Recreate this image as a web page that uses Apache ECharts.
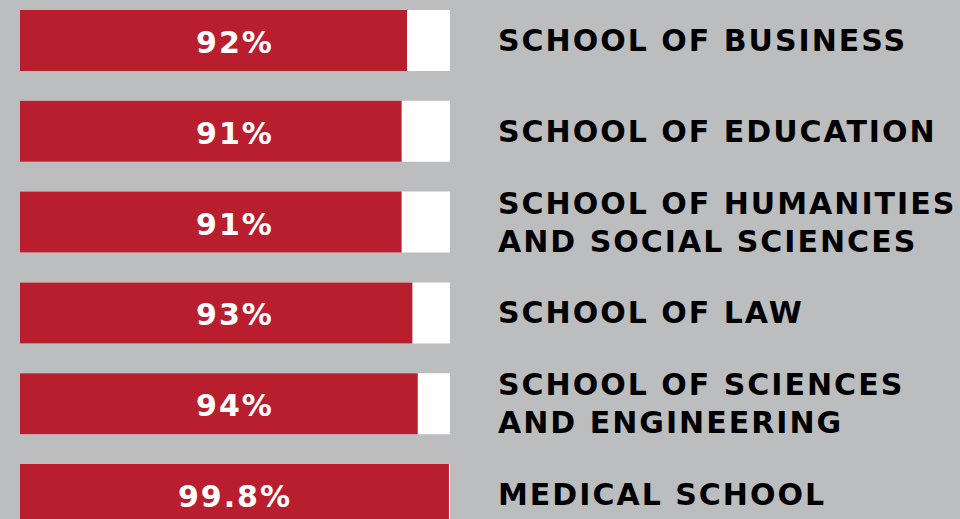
<!DOCTYPE html>
<html>
<head>
<meta charset="utf-8">
<script src="https://cdn.jsdelivr.net/npm/echarts@6/dist/echarts.min.js"></script>
<style>
  html, body { margin: 0; padding: 0; background: #BCBDBF; overflow: hidden; width: 960px; height: 519px; position: relative; }
  #main { position: absolute; left: 0; top: -5px; width: 960px; height: 545px; }
  #main svg text { letter-spacing: 2px; }
</style>
</head>
<body>
<div id="main"></div>
<script>
const categories = [
  'SCHOOL OF BUSINESS',
  'SCHOOL OF EDUCATION',
  'SCHOOL OF HUMANITIES\nAND SOCIAL SCIENCES',
  'SCHOOL OF LAW',
  'SCHOOL OF SCIENCES\nAND ENGINEERING',
  'MEDICAL SCHOOL'
];
const percentValues = [92, 91, 91, 93, 94, 99.8];
const axisMin = 20;
const axisMax = 100;

const chart = echarts.init(document.getElementById('main'), null, { renderer: 'svg' });
const font = 'DejaVu Sans';
chart.setOption({
  backgroundColor: '#BCBDBF',
  animation: false,
  grid: { left: 20, right: 510, top: 0, bottom: 0, containLabel: false },
  xAxis: {
    type: 'value', min: axisMin, max: axisMax, show: false
  },
  yAxis: {
    type: 'category', data: categories, inverse: true, position: 'right',
    axisLine: { show: false }, axisTick: { show: false }, splitLine: { show: false },
    axisLabel: {
      interval: 0, align: 'left', margin: 48, color: '#000000',
      fontFamily: font, fontWeight: 'bold', fontSize: 30, lineHeight: 38,
      padding: [8, 0, 0, 0]
    }
  },
  series: [
    {
      type: 'bar', name: 'rate', data: percentValues, barWidth: 61, z: 2,
      itemStyle: { color: '#B91E2E' },
      showBackground: true,
      backgroundStyle: { color: '#FFFFFF', opacity: 1 },
      label: { show: false }
    },
    {
      type: 'bar', name: 'labels', data: categories.map(() => axisMax), barWidth: 61,
      barGap: '-100%', z: 3, silent: true,
      itemStyle: { color: 'rgba(0,0,0,0)' },
      label: {
        show: true, position: 'inside', color: '#FFFFFF', offset: [0, 2],
        fontFamily: font, fontWeight: 'bold', fontSize: 30,
        formatter: p => percentValues[p.dataIndex] + '%'
      }
    }
  ]
});
</script>
</body>
</html>
